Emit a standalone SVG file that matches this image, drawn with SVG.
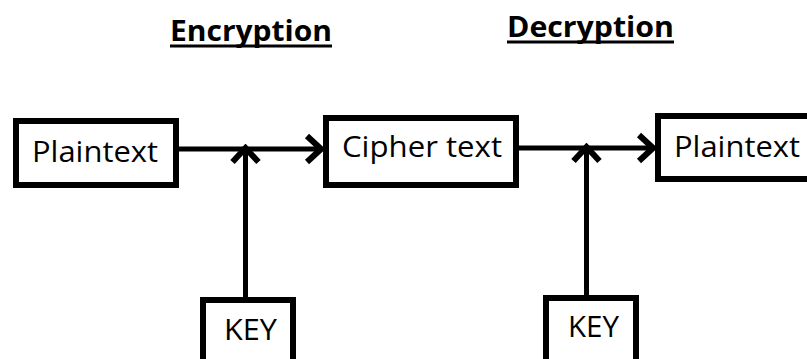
<svg xmlns="http://www.w3.org/2000/svg" width="807" height="359" viewBox="0 0 807 359">
<style>
.box{fill:#fff;stroke:#000;stroke-width:6}
.lbl{font-family:"Open Sans","Liberation Sans",sans-serif;font-size:29px;fill:#000}
.head{font-family:"Open Sans","Liberation Sans",sans-serif;font-size:28px;font-weight:bold;fill:#000}
.conn{stroke:#000;stroke-width:5;fill:none}
.ul{stroke:#000;stroke-width:3}
</style>
<defs>
<marker id="chev" markerUnits="userSpaceOnUse" viewBox="0 0 22 32" refX="19" refY="16" markerWidth="22" markerHeight="32" orient="auto">
<path d="M4,3 L18,16 L4,29" fill="none" stroke="#000" stroke-width="6"/>
</marker>
</defs>
<rect width="807" height="359" fill="#fff"/>
<g id="heading-encryption">
<text class="head" x="170" y="41" textLength="162" lengthAdjust="spacingAndGlyphs">Encryption</text>
<line class="ul" x1="170" y1="46" x2="332" y2="46"/>
</g>
<g id="heading-decryption">
<text class="head" x="507" y="37" textLength="167" lengthAdjust="spacingAndGlyphs">Decryption</text>
<line class="ul" x1="507" y1="42" x2="674" y2="42"/>
</g>
<g id="connectors">
<line class="conn" x1="179" y1="149" x2="322" y2="149" marker-end="url(#chev)"/>
<line class="conn" x1="519" y1="148" x2="654" y2="148" marker-end="url(#chev)"/>
<line class="conn" x1="245.5" y1="298" x2="245.5" y2="147" marker-end="url(#chev)"/>
<line class="conn" x1="586.5" y1="296" x2="586.5" y2="146" marker-end="url(#chev)"/>
</g>
<g id="plaintext-in">
<rect class="box" x="16" y="121" width="160" height="64"/>
<text class="lbl" x="32" y="162" textLength="126" lengthAdjust="spacingAndGlyphs">Plaintext</text>
</g>
<g id="ciphertext">
<rect class="box" x="326" y="118" width="190" height="67"/>
<text class="lbl" x="342" y="157" textLength="160" lengthAdjust="spacingAndGlyphs">Cipher text</text>
</g>
<g id="plaintext-out">
<rect class="box" x="658" y="116" width="170" height="63"/>
<text class="lbl" x="674" y="157" textLength="126" lengthAdjust="spacingAndGlyphs">Plaintext</text>
</g>
<g id="key-enc">
<rect class="box" x="203" y="300" width="90" height="80"/>
<text class="lbl" x="224" y="340" textLength="53" lengthAdjust="spacingAndGlyphs">KEY</text>
</g>
<g id="key-dec">
<rect class="box" x="546" y="298" width="90" height="80"/>
<text class="lbl" x="568" y="337" textLength="51" lengthAdjust="spacingAndGlyphs">KEY</text>
</g>
</svg>
